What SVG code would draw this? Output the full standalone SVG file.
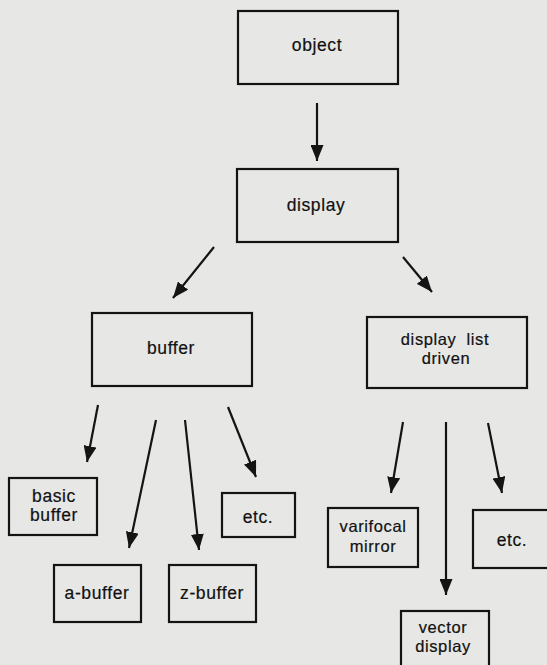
<svg xmlns="http://www.w3.org/2000/svg" width="547" height="665" viewBox="0 0 547 665">
<style>
.bg{fill:#e7e7e5}
.box{fill:none;stroke:#141414;stroke-width:2.2}
.t{font-family:"Liberation Sans",Arial,sans-serif;font-size:17.5px;letter-spacing:0.6px;fill:#111;stroke:#111;stroke-width:0.2;text-anchor:middle}
.s{font-size:16.5px}
.c{stroke:#141414;stroke-width:2.2;fill:none;marker-end:url(#ah)}
</style>
<defs>
<marker id="ah" markerUnits="userSpaceOnUse" viewBox="0 0 16 13" markerWidth="16" markerHeight="13" refX="16" refY="6.5" orient="auto">
<path d="M0,0 L16,6.5 L0,13 z" fill="#141414"/>
</marker>
</defs>
<rect class="bg" x="0" y="0" width="547" height="665"/>
<g id="connectors">
<line class="c" x1="317" y1="103" x2="317" y2="161"/>
<line class="c" x1="214" y1="247" x2="173" y2="298"/>
<line class="c" x1="403" y1="257" x2="432" y2="292"/>
<line class="c" x1="98" y1="405" x2="87" y2="462"/>
<line class="c" x1="156" y1="420" x2="129" y2="548"/>
<line class="c" x1="185" y1="420" x2="199" y2="550"/>
<line class="c" x1="228" y1="407" x2="256" y2="477"/>
<line class="c" x1="403" y1="422" x2="391" y2="493"/>
<line class="c" x1="446" y1="422" x2="446" y2="595"/>
<line class="c" x1="488" y1="423" x2="502" y2="493"/>
</g>
<g id="object">
<rect class="box" x="238" y="11" width="160" height="73"/>
<text class="t" x="317" y="51">object</text>
</g>
<g id="display">
<rect class="box" x="237" y="169" width="161" height="73"/>
<text class="t" x="316" y="211">display</text>
</g>
<g id="buffer">
<rect class="box" x="92" y="313" width="160" height="73"/>
<text class="t" x="171" y="354">buffer</text>
</g>
<g id="display-list-driven">
<rect class="box" x="367" y="317" width="160" height="71"/>
<text class="t s" x="445" y="345" word-spacing="5">display list</text>
<text class="t s" x="446" y="364">driven</text>
</g>
<g id="basic-buffer">
<rect class="box" x="9" y="478" width="88" height="57"/>
<text class="t" x="54" y="502">basic</text>
<text class="t" x="54" y="521">buffer</text>
</g>
<g id="etc-left">
<rect class="box" x="222" y="493" width="73" height="44"/>
<text class="t" x="258" y="523">etc.</text>
</g>
<g id="a-buffer">
<rect class="box" x="54" y="565" width="87" height="57"/>
<text class="t" x="97" y="599">a-buffer</text>
</g>
<g id="z-buffer">
<rect class="box" x="169" y="565" width="87" height="57"/>
<text class="t" x="212" y="599">z-buffer</text>
</g>
<g id="varifocal-mirror">
<rect class="box" x="328" y="508" width="90" height="59"/>
<text class="t s" x="373" y="532">varifocal</text>
<text class="t s" x="373" y="552">mirror</text>
</g>
<g id="etc-right">
<rect class="box" x="473" y="510" width="90" height="58"/>
<text class="t" x="512" y="546">etc.</text>
</g>
<g id="vector-display">
<rect class="box" x="401" y="611" width="88" height="70"/>
<text class="t s" x="443" y="633">vector</text>
<text class="t s" x="443" y="652">display</text>
</g>
</svg>
